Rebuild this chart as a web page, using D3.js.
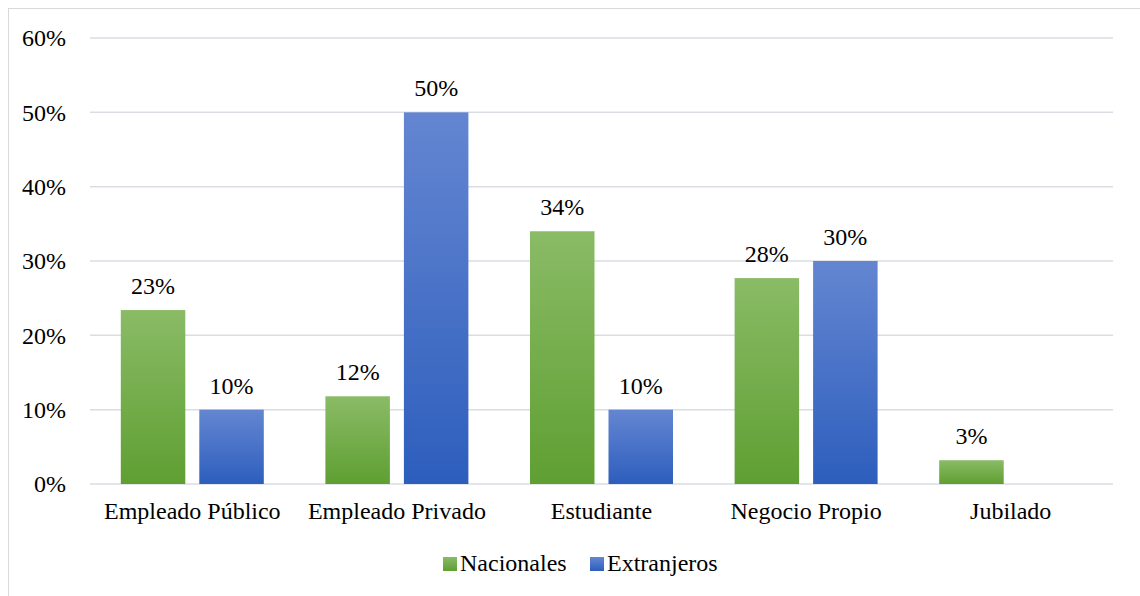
<!DOCTYPE html>
<html><head><meta charset="utf-8">
<script src="https://cdnjs.cloudflare.com/ajax/libs/d3/7.8.5/d3.min.js"></script>
<style>html,body{margin:0;padding:0;background:#fff;}svg{display:block;}</style>
</head><body>
<svg id="chart" width="1140" height="596"></svg>
<script>
const categories = ["Empleado Público", "Empleado Privado", "Estudiante", "Negocio Propio", "Jubilado"];
const seriesNames = ["Nacionales", "Extranjeros"];
const nacionales = [23.4, 11.8, 34.0, 27.7, 3.2];
const extranjeros = [10, 50, 10, 30, 0];
const tickValues = [0, 10, 20, 30, 40, 50, 60];

(function(){
const svg = d3.select("#chart");
const W = 1140, H = 596;
const FONT = '"Liberation Serif"';
const fs = 24;

svg.append("rect").attr("x", 8.5).attr("y", 8.5).attr("width", W + 10).attr("height", H + 10)
  .attr("fill", "#fff").attr("stroke", "#d9d9d9").attr("stroke-width", 1);

const defs = svg.append("defs");
const grads = [
  {id: "gGreen", top: "#8abb66", bot: "#5f9f32"},
  {id: "gBlue", top: "#6486d1", bot: "#2d5ebd"}
];
grads.forEach(g => {
  const lg = defs.append("linearGradient").attr("id", g.id)
    .attr("x1", 0).attr("y1", 0).attr("x2", 0).attr("y2", 1);
  lg.append("stop").attr("offset", "0%").attr("stop-color", g.top);
  lg.append("stop").attr("offset", "100%").attr("stop-color", g.bot);
});
const fills = ["url(#gGreen)", "url(#gBlue)"];

const pLeft = 90, pRight = 1113, pTop = 38, pBottom = 484;
const x = d3.scaleBand().domain(categories).range([pLeft, pRight]);
const y = d3.scaleLinear().domain([0, 60]).range([pBottom, pTop]);
const barW = 64.5, gap = 14;
const groupW = barW * 2 + gap;
const xs = d3.scaleBand().domain(seriesNames).range([0, groupW]).paddingInner(gap / (barW + gap));

svg.append("g").selectAll("line").data(tickValues).join("line")
  .attr("x1", pLeft).attr("x2", pRight)
  .attr("y1", d => y(d)).attr("y2", d => y(d))
  .attr("stroke", "#d9dde3").attr("stroke-width", 1.5);

const yAxis = svg.append("g").attr("transform", `translate(${pLeft},0)`)
  .call(d3.axisLeft(y).tickValues(tickValues).tickFormat(d => d + "%").tickSize(0).tickPadding(24));
yAxis.select(".domain").remove();
yAxis.selectAll("text").style("font-family", FONT).attr("font-size", fs).attr("fill", "#000");

const xAxis = svg.append("g").attr("transform", `translate(0,${pBottom})`)
  .call(d3.axisBottom(x).tickSize(0).tickPadding(18));
xAxis.select(".domain").remove();
xAxis.selectAll("text").style("font-family", FONT).attr("font-size", fs).attr("fill", "#000");

const data = categories.map((c, i) => ({cat: c, vals: [nacionales[i], extranjeros[i]]}));
const groups = svg.append("g").selectAll("g").data(data).join("g")
  .attr("transform", d => `translate(${x(d.cat) + x.bandwidth() / 2 - groupW / 2},0)`);

groups.each(function(d) {
  const g = d3.select(this);
  d.vals.forEach((v, si) => {
    if (!v) return;
    const bx = xs(seriesNames[si]);
    const bw = xs.bandwidth();
    g.append("rect").attr("x", bx).attr("y", y(v)).attr("width", bw)
      .attr("height", y(0) - y(v)).attr("fill", fills[si]);
    g.append("text").attr("x", bx + bw / 2).attr("y", y(v) - 16)
      .attr("text-anchor", "middle").style("font-family", FONT).attr("font-size", fs)
      .attr("fill", "#000").text(Math.round(v) + "%");
  });
});

const legend = svg.append("g");
const legendItems = [{name: seriesNames[0], x: 443}, {name: seriesNames[1], x: 590}];
legendItems.forEach((it, i) => {
  legend.append("rect").attr("x", it.x).attr("y", 557).attr("width", 14).attr("height", 14)
    .attr("fill", fills[i]);
  legend.append("text").attr("x", it.x + 17).attr("y", 571)
    .style("font-family", FONT).attr("font-size", fs).attr("fill", "#000").text(it.name);
});
})();
</script>
</body></html>
